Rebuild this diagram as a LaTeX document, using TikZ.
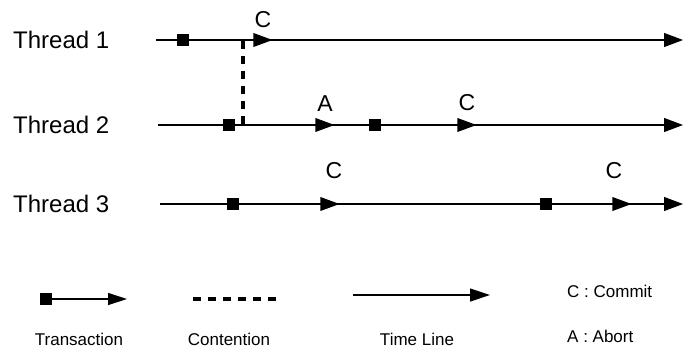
\documentclass[tikz,border=0pt]{standalone}
\usepackage{fontspec}
\setmainfont{Liberation Sans}
\usetikzlibrary{positioning}
\usetikzlibrary{arrows.meta}
\usetikzlibrary{shapes.geometric}
\tikzset{
    thread/.style = {anchor=west,inner sep=0pt,font=\fontsize{24}{28}\selectfont},
    tag/.style = {inner sep=0pt,font=\fontsize{23}{26}\selectfont},
    legend/.style = {inner sep=0pt,font=\fontsize{17}{20}\selectfont},
    txn/.style = {rectangle,fill=black,inner sep=0pt,minimum size=12pt},
    commit/.style = {isosceles triangle,isosceles triangle stretches,fill=black,inner sep=0pt,minimum width=14pt,minimum height=19pt,anchor=apex},
    timeline/.style = {line width=1.2pt,-{Triangle[length=19pt,width=14pt]}},
    plainline/.style = {line width=1.2pt},
    contention/.style = {line width=3.5pt,dash pattern=on 8pt off 7pt},
}

\begin{document}
\begin{tikzpicture}[x=1pt,y=-1pt]
\useasboundingbox (0,0) rectangle (683,349);
%
\node[thread] at (13,40) (th1) {Thread 1};
\node[thread] at (13,125) (th2) {Thread 2};
\node[thread] at (13,204) (th3) {Thread 3};
%
\coordinate (t1s) at (156,40);
\coordinate (t1e) at (683,40);
\coordinate (t2s) at (158,125);
\coordinate (t2e) at (683,125);
\coordinate (t3s) at (160,204);
\coordinate (t3e) at (683,204);
%
\draw[timeline] (t1s) -- (t1e);
\draw[timeline] (t2s) -- (t2e);
\draw[timeline] (t3s) -- (t3e);
%
\coordinate (k1) at (243,41);
\coordinate (k2) at (243,125);
\draw[contention] (k1) -- (k2);
%
\node[txn] at (183,40) (s1) {};
\node[txn] at (229,125) (s2) {};
\node[txn] at (375,125) (s3) {};
\node[txn] at (233,204) (s4) {};
\node[txn] at (546,204) (s5) {};
%
\node[commit] at (273,40) (m1) {};
\node[commit] at (335,125) (m2) {};
\node[commit] at (477,125) (m3) {};
\node[commit] at (340,204) (m4) {};
\node[commit] at (632,204) (m5) {};
%
\node[tag] at (263,20) (c1) {C};
\node[tag] at (325,104) (a2) {A};
\node[tag] at (467,103) (c3) {C};
\node[tag] at (334,171) (c4) {C};
\node[tag] at (614,171) (c5) {C};
%
% legend
\node[txn] at (46,299) (ls) {};
\coordinate (le) at (127,299);
\draw[plainline,-{Triangle[length=19pt,width=12pt]}] (ls) -- (le);
\coordinate (lk1) at (193,299);
\coordinate (lk2) at (281,299);
\draw[contention] (lk1) -- (lk2);
\coordinate (lt1) at (353,295);
\coordinate (lt2) at (490,295);
\draw[plainline,-{Triangle[length=20pt,width=13pt]}] (lt1) -- (lt2);
%
\node[legend] at (79,339) (ltx) {Transaction};
\node[legend] at (229,339) (lct) {Contention};
\node[legend] at (417,339) (ltl) {Time Line};
\node[legend,anchor=west] at (567,291) (lc) {C : Commit};
\node[legend,anchor=west] at (567,336) (la) {A : Abort};
\end{tikzpicture}
\end{document}
